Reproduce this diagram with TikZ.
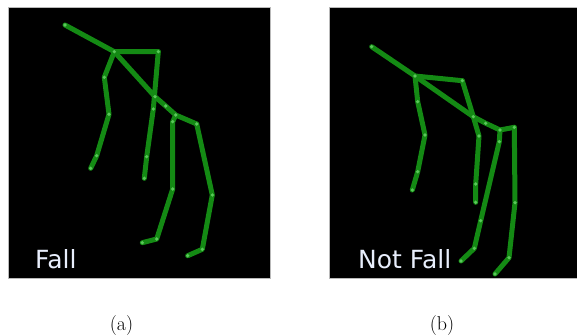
\documentclass[tikz,border=0pt]{standalone}
\usepackage{fontspec}
\newfontfamily\labelfont{DejaVu Sans}
\begin{document}
\begin{tikzpicture}[x=1pt,y=-1pt,
  panel/.style={fill=black,draw=gray!55,line width=0.7pt},
  bone/.style={draw=bonegreen,line width=5pt,line cap=round,line join=round},
  joint/.style={fill=jointgreen},
  tag/.style={font=\labelfont\fontsize{25}{25}\selectfont,text=tagwhite,inner sep=0pt,anchor=base west},
  caption/.style={font=\fontsize{20}{20}\selectfont,inner sep=0pt}]
\definecolor{bonegreen}{RGB}{20,138,20}
\definecolor{jointgreen}{RGB}{90,200,90}
\definecolor{tagwhite}{RGB}{232,238,252}
\useasboundingbox (0,0) rectangle (577,336);

% black panels
\draw[panel] (8,7) rectangle (270,278);
\draw[panel] (329.5,7) rectangle (578,278);

% ---------- skeleton (a) ----------
\coordinate (aHd) at (65,25);
\coordinate (aNk) at (114.3,51.7);
\coordinate (aSr) at (158.3,51.7);
\coordinate (aL1) at (104.3,77.3);
\coordinate (aL2) at (109,114.3);
\coordinate (aL3) at (96.7,155.7);
\coordinate (aL4) at (90.7,168.3);
\coordinate (aR1) at (153.3,109);
\coordinate (aR2) at (146.7,156.7);
\coordinate (aR3) at (144.3,178.3);
\coordinate (aS1) at (155,96.7);
\coordinate (aS2) at (165.7,106);
\coordinate (aHp) at (175.7,115);
\coordinate (aHr) at (196.7,124);
\coordinate (aG1) at (172.7,121.7);
\coordinate (aG2) at (172.7,189);
\coordinate (aG3) at (156.7,239);
\coordinate (aG4) at (142.3,242.7);
\coordinate (aK1) at (212.3,195);
\coordinate (aK2) at (202.3,249.3);
\coordinate (aK3) at (187.7,255.7);

\draw[bone] (aHd) -- (aNk) -- (aSr);
\draw[bone] (aNk) -- (aL1) -- (aL2) -- (aL3) -- (aL4);
\draw[bone] (aSr) -- (aR1) -- (aR2) -- (aR3);
\draw[bone] (aNk) -- (aS1) -- (aS2) -- (aHp) -- (aHr);
\draw[bone] (aHp) -- (aG1) -- (aG2) -- (aG3) -- (aG4);
\draw[bone] (aHr) -- (aK1) -- (aK2) -- (aK3);
\foreach \j in {aHd,aNk,aSr,aL1,aL2,aL3,aL4,aR1,aR2,aR3,aS1,aS2,aHp,aHr,aG1,aG2,aG3,aG4,aK1,aK2,aK3}
  \fill[joint] (\j) circle (1.8);

% ---------- skeleton (b) ----------
\coordinate (bHd) at (371.7,46.7);
\coordinate (bNk) at (415,76);
\coordinate (bSr) at (462.3,80.7);
\coordinate (bL1) at (417.7,101.7);
\coordinate (bL2) at (425,135);
\coordinate (bL3) at (417.7,171.7);
\coordinate (bL4) at (412.3,190);
\coordinate (bR1) at (473.3,116.7);
\coordinate (bR2) at (479,136);
\coordinate (bR3) at (475.7,184);
\coordinate (bR4) at (475.7,202.3);
\coordinate (bS2) at (485.7,123.3);
\coordinate (bHp) at (500,130);
\coordinate (bHr) at (514.3,127.3);
\coordinate (bG1) at (499.3,141.7);
\coordinate (bG2) at (480.7,220.7);
\coordinate (bG3) at (474.3,248.3);
\coordinate (bG4) at (461,261);
\coordinate (bK1) at (515,202.7);
\coordinate (bK2) at (509,257.7);
\coordinate (bK3) at (495,274);

\draw[bone] (bHd) -- (bNk) -- (bSr);
\draw[bone] (bNk) -- (bL1) -- (bL2) -- (bL3) -- (bL4);
\draw[bone] (bSr) -- (bR1) -- (bR2) -- (bR3) -- (bR4);
\draw[bone] (bNk) -- (bR1) -- (bS2) -- (bHp) -- (bHr);
\draw[bone] (bHp) -- (bG1) -- (bG2) -- (bG3) -- (bG4);
\draw[bone] (bHr) -- (bK1) -- (bK2) -- (bK3);
\foreach \j in {bHd,bNk,bSr,bL1,bL2,bL3,bL4,bR1,bR2,bR3,bR4,bS2,bHp,bHr,bG1,bG2,bG3,bG4,bK1,bK2,bK3}
  \fill[joint] (\j) circle (1.8);

% class tags
\node[tag] (tagA) at (35,268) {Fall};
\node[tag] (tagB) at (358,268) {Not Fall};

% captions
\node[caption] (capA) at (121.5,326) {(a)};
\node[caption] (capB) at (442,326) {(b)};
\end{tikzpicture}
\end{document}
